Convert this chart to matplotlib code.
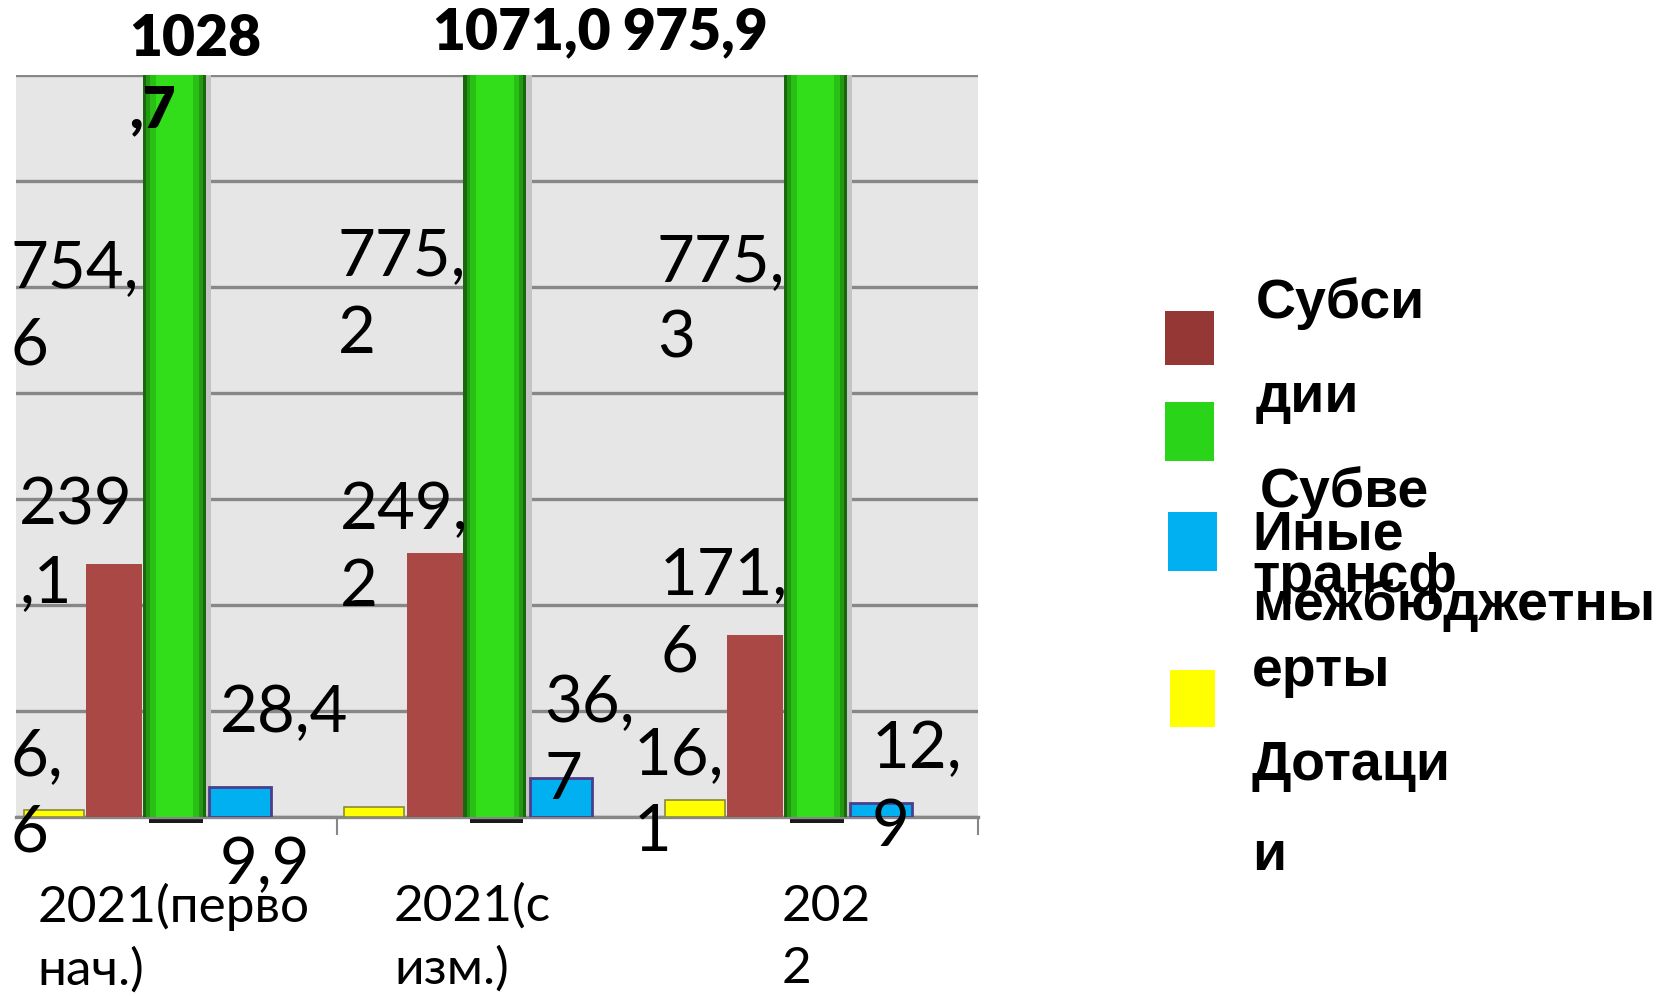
import matplotlib
matplotlib.use("Agg")
import matplotlib.pyplot as plt
from matplotlib.patches import Rectangle

# ---- data ----
categories = ["2021(перво\nнач.)", "2021(с\nизм.)", "202\n2"]
dotacii = [6.6, 9.9, 16.1]
subsidii = [239.1, 249.2, 171.6]
subvencii = [754.6, 775.2, 775.3]
inye = [28.4, 36.7, 12.9]
itogo = [1028.7, 1071.0, 975.9]

series_names = ["Дотации", "Субсидии", "Субвенции", "Иные межбюджетные трансферты"]

W, H = 1681, 996
fig = plt.figure(figsize=(W / 100, H / 100), dpi=100)
ax = fig.add_axes([0.0096, 0.1797, 0.5721, 0.745])

LBL = ["Lato", "Open Sans", "DejaVu Sans"]


def fmt(v):
    return f"{v:.1f}".replace(".", ",")


def wrap(s, mode):
    if mode == "after":
        return s.replace(",", ",\n")
    if mode == "before":
        return s.replace(",", "\n,")
    return s


n = len(categories)
xs = list(range(n))

# bar slots inside each category (left offset, width)
yellow_off, yellow_w = 0.023, 0.188
brown_off, brown_w = 0.218, 0.175
green_off, green_w = 0.395, 0.197
blue_off, blue_w = 0.602, 0.194

ax.bar([x + yellow_off for x in xs], dotacii, width=yellow_w, align="edge",
       color="#ffff00", edgecolor="#8a8a3a", linewidth=1.2, zorder=3)
ax.bar([x + brown_off for x in xs], subsidii, width=brown_w, align="edge",
       color="#aa4846", linewidth=0, zorder=3)

# green bars: shaded like a bevelled column, light shadow at right
ax.bar([x + green_off + green_w for x in xs], subvencii, width=0.017, align="edge",
       color="#c4c4c4", linewidth=0, zorder=2)
green_shades = [(0.0, "#1a680e"), (0.010, "#219a12"), (0.022, "#29c016"), (0.040, "#32de1a")]
for inset, col in green_shades:
    ax.bar([x + green_off + inset for x in xs], subvencii, width=green_w - 2 * inset,
           align="edge", color=col, linewidth=0, zorder=3)
ax.bar([x + green_off + 0.02 for x in xs], [-6] * n, width=green_w - 0.03, align="edge",
       color="#1a1a1a", linewidth=0, zorder=2, clip_on=False)
ax.bar([x + blue_off for x in xs], inye, width=blue_w, align="edge",
       color="#00b0f0", edgecolor="#4d3d8a", linewidth=2.0, zorder=3)

ax.set_xlim(0, n)
ax.set_ylim(0, 700)
ax.set_facecolor("#e6e6e6")
ax.set_yticks(range(0, 701, 100))
ax.yaxis.grid(True, color="#878787", linewidth=2.4, zorder=1)
ax.set_axisbelow(True)
ax.tick_params(axis="y", left=False, labelleft=False)
ax.set_xticks(range(1, n + 1))
ax.tick_params(axis="x", length=13, width=1.5, color="#878787", labelbottom=False)
for s in ["left", "right", "top"]:
    ax.spines[s].set_visible(False)
ax.spines["bottom"].set_color("#878787")
ax.spines["bottom"].set_linewidth(2.4)

# ---- value labels (positions as in the reference) ----
lab_fs = 47
lab_ls = 1.38
yellow_pos = [(-0.017, 21), (-0.364, -46), (-0.075, 22)]
yellow_wrap = ["after", "none", "after"]
brown_pos = [(0.010, 257), (0.011, 253), (0.009, 191)]
brown_wrap = ["before", "after", "after"]
green_pos = [(-0.017, 481), (0.004, 492), (-0.001, 487)]
blue_pos = [(0.636, 98), (0.647, 71), (0.668, 27)]
blue_wrap = ["none", "after", "after"]
total_pos = [(0.352, 700), (0.299, 740), (-0.108, 740)]
total_wrap = ["before", "none", "none"]

for i in xs:
    for vals, pos, wr in [(dotacii, yellow_pos, yellow_wrap),
                          (subsidii, brown_pos, brown_wrap),
                          (subvencii, green_pos, ["after"] * n),
                          (inye, blue_pos, blue_wrap)]:
        dx, yy = pos[i]
        ax.text(i + dx, yy, wrap(fmt(vals[i]), wr[i]), ha="left", va="center",
                fontsize=lab_fs, family=LBL, linespacing=lab_ls,
                zorder=5, clip_on=False)
    dx, yy = total_pos[i]
    ax.text(i + dx, yy, wrap(fmt(itogo[i]), total_wrap[i]), ha="left", va="center",
            fontsize=41, fontweight="heavy", family=LBL, linespacing=1.45,
            zorder=5, clip_on=False)

cat_pos = [0.067, 0.179, 0.388]
for i in xs:
    ax.text(i + cat_pos[i], -114, categories[i], ha="left", va="center",
            fontsize=37, family=LBL, linespacing=1.42, clip_on=False)

# ---- legend (drawn by hand to match the reference) ----
legend_colors = ["#953735", "#2ad418", "#00b0f0", "#ffff00"]
swatches = [(1165, 311, 49, 54), (1165, 402, 49, 59), (1168, 512, 49, 59), (1170, 670, 45, 57)]
for c, (x0, y0, w, h) in zip(legend_colors, swatches):
    fig.add_artist(Rectangle((x0 / W, 1 - (y0 + h) / H), w / W, h / H,
                             transform=fig.transFigure, color=c, linewidth=0))

legend_lines = [("Субси", 1256, 318), ("дии", 1256, 412), ("Субве", 1260, 507),
                ("Иные", 1252, 549), ("трансф", 1252, 592), ("межбюджетны", 1252, 620),
                ("ерты", 1252, 686), ("Дотаци", 1252, 780), ("и", 1252, 870)]
for txt, x0, yb in legend_lines:
    fig.text(x0 / W, 1 - yb / H, txt, ha="left", va="baseline", fontsize=40,
             fontweight="bold", family=["Liberation Sans", "DejaVu Sans"])

fig.savefig("out.png", dpi=100)
